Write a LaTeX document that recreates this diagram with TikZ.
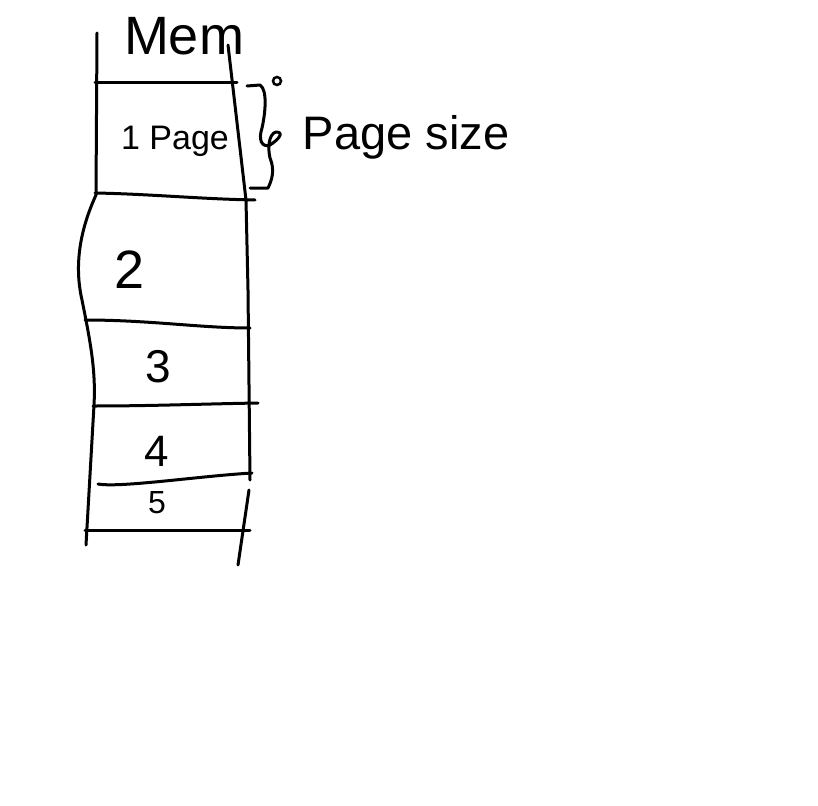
\documentclass[tikz,border=0pt]{standalone}
\usepackage{fontspec}
\setmainfont{Liberation Sans}
\begin{document}
\begin{tikzpicture}[x=1pt,y=-1pt,
  pen/.style={line width=3pt,line cap=round,line join=round,black},
  hand/.style={font=\fontsize{#1}{#1}\selectfont,inner sep=0pt,anchor=center}]
\useasboundingbox[fill=white] (0,0) rectangle (818,805);
% left wall
\coordinate (l0) at (97,33);
\coordinate (l1) at (96,195);
\coordinate (l2) at (86,545);
\draw[pen] (l0) -- (l1) .. controls (80,230) and (74,265) .. (82,300)
  .. controls (90,340) and (96,370) .. (94,405) -- (l2);
% right wall
\coordinate (r0) at (228,45);
\coordinate (r1) at (246,200);
\coordinate (r2) at (250,480);
\draw[pen] (r0) -- (r1) -- (248,290) -- (r2);
\coordinate (s0) at (249,490);
\coordinate (s1) at (238,565);
\draw[pen] (s0) -- (s1);
% horizontal separators
\draw[pen] (95,83) -- (237,83);
\draw[pen] (95,193) .. controls (150,194) and (200,199) .. (255,200);
\draw[pen] (85,320) .. controls (150,320) and (200,328) .. (250,328);
\draw[pen] (93,406) .. controls (150,406) and (200,404) .. (258,403);
\draw[pen] (98,484) .. controls (120,488) and (200,476) .. (252,473);
\draw[pen] (85,530) -- (250,530);
% brace
\draw[pen] (247,86) -- (260,85) .. controls (268,90) and (265,115) .. (262,128)
  .. controls (258,140) and (262,148) .. (270,145)
  .. controls (278,140) and (285,132) .. (276,132)
  .. controls (268,134) and (268,150) .. (270,158)
  .. controls (275,170) and (272,180) .. (268,188) -- (250,188);
\draw[line width=2.5pt] (277,81) circle (4);
% labels
\node[hand=54] (mem) at (184,36) {Mem};
\node[hand=34] (p1) at (175,141) {1 Page};
\node[hand=47] (ps) at (406,137) {Page size};
\node[hand=54] (n2) at (130,270) {2};
\node[hand=46] (n3) at (158,367) {3};
\node[hand=44] (n4) at (157,451) {4};
\node[hand=32] (n5) at (157,503) {5};
\end{tikzpicture}
\end{document}
